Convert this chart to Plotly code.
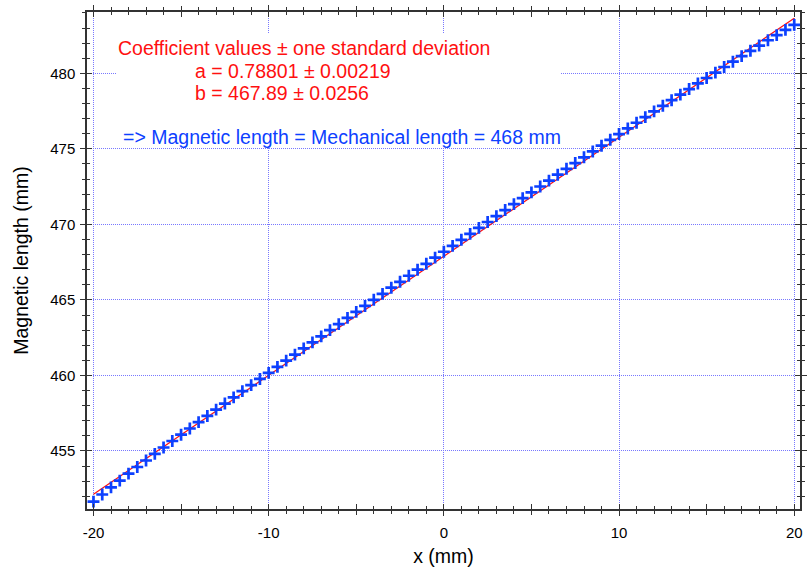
import plotly.graph_objects as go

# ---- data ----
x_mm = [-20.0, -19.5, -19.0, -18.5, -18.0, -17.5, -17.0, -16.5, -16.0, -15.5,
        -15.0, -14.5, -14.0, -13.5, -13.0, -12.5, -12.0, -11.5, -11.0, -10.5,
        -10.0, -9.5, -9.0, -8.5, -8.0, -7.5, -7.0, -6.5, -6.0, -5.5,
        -5.0, -4.5, -4.0, -3.5, -3.0, -2.5, -2.0, -1.5, -1.0, -0.5,
        0.0, 0.5, 1.0, 1.5, 2.0, 2.5, 3.0, 3.5, 4.0, 4.5,
        5.0, 5.5, 6.0, 6.5, 7.0, 7.5, 8.0, 8.5, 9.0, 9.5,
        10.0, 10.5, 11.0, 11.5, 12.0, 12.5, 13.0, 13.5, 14.0, 14.5,
        15.0, 15.5, 16.0, 16.5, 17.0, 17.5, 18.0, 18.5, 19.0, 19.5, 20.0]

mag_len = [451.65, 452.12, 452.59, 453.04, 453.50, 453.94, 454.37, 454.81, 455.23, 455.66,
           456.08, 456.49, 456.91, 457.32, 457.74, 458.14, 458.55, 458.96, 459.36, 459.77,
           460.17, 460.57, 460.98, 461.38, 461.79, 462.19, 462.59, 463.00, 463.40, 463.81,
           464.21, 464.60, 465.01, 465.40, 465.81, 466.20, 466.60, 467.00, 467.39, 467.80,
           468.19, 468.58, 468.98, 469.37, 469.77, 470.16, 470.55, 470.95, 471.34, 471.74,
           472.12, 472.51, 472.90, 473.29, 473.68, 474.06, 474.44, 474.83, 475.21, 475.60,
           475.98, 476.35, 476.73, 477.10, 477.48, 477.85, 478.22, 478.59, 478.96, 479.33,
           479.69, 480.05, 480.42, 480.77, 481.14, 481.49, 481.84, 482.19, 482.53, 482.88, 483.21]

fit_a = 0.78801
fit_b = 467.89
fit_x = [-20.0, 20.0]
fit_y = [fit_a * v + fit_b for v in fit_x]

x_tickvals = [-20, -10, 0, 10, 20]
x_ticktext = ["-20", "-10", "0", "10", "20"]
y_tickvals = [455, 460, 465, 470, 475, 480]
y_ticktext = ["455", "460", "465", "470", "475", "480"]

x_range = [-20.37, 20.33]
y_range = [451.16, 484.06]

# ---- styles ----
FONT = "Liberation Sans, Arial, sans-serif"
AXC = "#333333"
GRIDC = "rgb(120,120,255)"
GRIDDASH = "1px,1px"
BLUE = "#0d40ff"
RED = "#ff1010"

fig = go.Figure()

fig.add_trace(go.Scatter(
    x=fit_x, y=fit_y, mode="lines",
    line=dict(color=RED, width=1.2),
    hoverinfo="skip", showlegend=False))

fig.add_trace(go.Scatter(
    x=x_mm, y=mag_len, mode="markers",
    marker=dict(symbol="cross-thin", size=8.5,
                line=dict(color=BLUE, width=2.7), color=BLUE),
    showlegend=False))

# helper traces so the overlay axes are drawn
fig.add_trace(go.Scatter(x=[None], y=[None], xaxis="x2", yaxis="y2",
                         mode="markers", showlegend=False, hoverinfo="skip"))
fig.add_trace(go.Scatter(x=[None], y=[None], xaxis="x3", yaxis="y2",
                         mode="markers", showlegend=False, hoverinfo="skip"))

tickfont = dict(family=FONT, size=15, color="black")
titlefont = dict(family=FONT, size=19.5, color="black")

fig.update_layout(
    width=807, height=568,
    margin=dict(l=87, r=0, t=12, b=59),
    plot_bgcolor="white", paper_bgcolor="white",
    showlegend=False,
    font=dict(family=FONT),
    xaxis=dict(
        range=x_range, tickmode="array", tickvals=x_tickvals, ticktext=x_ticktext,
        ticks="outside", ticklen=5, tickwidth=1.2, tickcolor=AXC,
        showline=True, linecolor=AXC, linewidth=1.5, mirror="ticks",
        showgrid=True, gridcolor=GRIDC, griddash=GRIDDASH, gridwidth=1,
        zeroline=False, tickfont=tickfont, ticklabelstandoff=4,
        minor=dict(tickmode="linear", tick0=0, dtick=1, ticks="outside",
                   ticklen=3, tickwidth=1, tickcolor=AXC, showgrid=False),
        title=dict(text="x (mm)", font=titlefont, standoff=10),
    ),
    xaxis2=dict(
        overlaying="x", range=x_range, tickmode="linear", tick0=0, dtick=5,
        ticks="inside", ticklen=5, tickwidth=1.2, tickcolor=AXC,
        showline=False, mirror="ticks", showgrid=False, zeroline=False,
        showticklabels=False,
        minor=dict(tickmode="linear", tick0=0, dtick=1, ticks="inside",
                   ticklen=3, tickwidth=1, tickcolor=AXC, showgrid=False),
    ),
    xaxis3=dict(
        overlaying="x", range=x_range, tickmode="linear", tick0=5, dtick=10,
        ticks="outside", ticklen=5, tickwidth=1.2, tickcolor=AXC,
        showline=False, mirror="ticks", showgrid=False, zeroline=False,
        showticklabels=False,
    ),
    yaxis=dict(
        range=y_range, tickmode="array", tickvals=y_tickvals, ticktext=y_ticktext,
        ticks="outside", ticklen=5, tickwidth=1.2, tickcolor=AXC,
        showline=True, linecolor=AXC, linewidth=1.5, mirror="ticks",
        showgrid=True, gridcolor=GRIDC, griddash=GRIDDASH, gridwidth=1,
        zeroline=False, tickfont=tickfont, ticklabelstandoff=2,
        minor=dict(tickmode="linear", tick0=0, dtick=1, ticks="outside",
                   ticklen=3, tickwidth=1, tickcolor=AXC, showgrid=False),
        title=dict(text="Magnetic length (mm)", font=titlefont, standoff=16),
    ),
    yaxis2=dict(
        overlaying="y", range=y_range, tickmode="linear", tick0=0, dtick=5,
        ticks="inside", ticklen=5, tickwidth=1.2, tickcolor=AXC,
        showline=False, mirror="ticks", showgrid=False, zeroline=False,
        showticklabels=False,
        minor=dict(tickmode="linear", tick0=0, dtick=1, ticks="inside",
                   ticklen=3, tickwidth=1, tickcolor=AXC, showgrid=False),
    ),
)

# white box behind the text (hides grid lines as in the original)
fig.add_shape(type="rect", xref="paper", yref="paper",
              x0=0.0417, x1=0.664, y0=0.7284, y1=0.9577,
              fillcolor="white", line=dict(width=0), layer="above")

annfont_r = dict(family=FONT, size=19.5, color=RED)
annfont_b = dict(family=FONT, size=19.5, color=BLUE)
anns = [
    ("Coefficient values ± one standard deviation", 0.0417, 0.9266, annfont_r),
    ("a = 0.78801 ± 0.00219", 0.150, 0.8813, annfont_r),
    ("b = 467.89 ± 0.0256", 0.150, 0.8370, annfont_r),
    ("=> Magnetic length = Mechanical length = 468 mm", 0.0486, 0.7485, annfont_b),
]
for txt, xp, yp, fnt in anns:
    fig.add_annotation(text=txt, xref="paper", yref="paper", x=xp, y=yp,
                       xanchor="left", yanchor="middle", showarrow=False,
                       font=fnt, borderpad=0)

fig.write_html("out.html")
